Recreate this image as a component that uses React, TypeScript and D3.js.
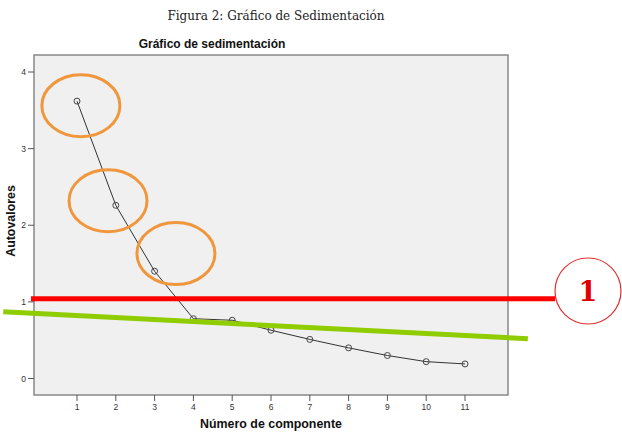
import React from 'react';
import * as d3 from 'd3';

const components = [1, 2, 3, 4, 5, 6, 7, 8, 9, 10, 11];
const eigenvalues = [3.62, 2.26, 1.4, 0.78, 0.76, 0.63, 0.51, 0.4, 0.3, 0.22, 0.19];
const yTicks = [0, 1, 2, 3, 4];
// hand-drawn annotations, in data units
const highlighted = [
  { x: 1.1, y: 3.56 },
  { x: 1.8, y: 2.32 },
  { x: 3.55, y: 1.63 },
];
const kaiserLine = 1.04;
const elbowLine = [
  { x: -0.9, y: 0.87 },
  { x: 12.62, y: 0.52 },
];

export default function App() {
  const width = 622;
  const height = 432;
  const frame = { left: 34, top: 55, right: 508, bottom: 395 };

  const x = d3.scaleLinear().domain([1, 11]).range([77, 465]);
  const y = d3.scaleLinear().domain([0, 4]).range([378.5, 72]);

  const line = d3
    .line<number>()
    .x((_, i) => x(components[i]))
    .y((d) => y(d));

  const green = d3
    .line<{ x: number; y: number }>()
    .x((d) => x(d.x))
    .y((d) => y(d.y));

  return (
    <svg
      width={width}
      height={height}
      style={{ position: 'absolute', left: 0, top: 0, background: '#fff' }}
    >
      <text
        x={276}
        y={20}
        textAnchor="middle"
        fontFamily="DejaVu Serif, serif"
        fontSize={12}
        fill="#222"
      >
        Figura 2: Gráfico de Sedimentación
      </text>
      <text
        x={212}
        y={48}
        textAnchor="middle"
        fontFamily="Liberation Sans, Arial, sans-serif"
        fontWeight="bold"
        fontSize={12}
        fill="#111"
      >
        Gráfico de sedimentación
      </text>

      <rect
        x={frame.left}
        y={frame.top}
        width={frame.right - frame.left}
        height={frame.bottom - frame.top}
        fill="#f0f0f0"
        stroke="#888"
        strokeWidth={1.5}
      />

      {yTicks.map((t) => (
        <g key={'y' + t}>
          <line x1={frame.left - 6} x2={frame.left} y1={y(t)} y2={y(t)} stroke="#555" />
          <text
            x={frame.left - 8}
            y={y(t) + 3}
            textAnchor="end"
            fontFamily="Liberation Sans, Arial, sans-serif"
            fontSize={8.5}
            fill="#333"
          >
            {t}
          </text>
        </g>
      ))}

      {components.map((c) => (
        <g key={'x' + c}>
          <line x1={x(c)} x2={x(c)} y1={frame.bottom} y2={frame.bottom + 6} stroke="#555" />
          <text
            x={x(c)}
            y={frame.bottom + 15}
            textAnchor="middle"
            fontFamily="Liberation Sans, Arial, sans-serif"
            fontSize={8.5}
            fill="#333"
          >
            {c}
          </text>
        </g>
      ))}

      <text
        x={271}
        y={428}
        textAnchor="middle"
        fontFamily="Liberation Sans, Arial, sans-serif"
        fontWeight="bold"
        fontSize={12.4}
        fill="#111"
      >
        Número de componente
      </text>
      <text
        transform={`translate(15,${221}) rotate(-90)`}
        textAnchor="middle"
        fontFamily="Liberation Sans, Arial, sans-serif"
        fontWeight="bold"
        fontSize={12.4}
        fill="#111"
      >
        Autovalores
      </text>

      <path d={line(eigenvalues) ?? ''} fill="none" stroke="#333" strokeWidth={1} />
      {eigenvalues.map((v, i) => (
        <circle
          key={'p' + i}
          cx={x(components[i])}
          cy={y(v)}
          r={3}
          fill="none"
          stroke="#444"
          strokeWidth={1}
        />
      ))}

      {highlighted.map((h, i) => (
        <ellipse
          key={'e' + i}
          cx={x(h.x)}
          cy={y(h.y)}
          rx={39}
          ry={31}
          fill="none"
          stroke="#f0963c"
          strokeWidth={3}
        />
      ))}

      <line
        x1={31}
        x2={555}
        y1={y(kaiserLine)}
        y2={y(kaiserLine)}
        stroke="#ff0000"
        strokeWidth={5}
      />
      <circle cx={588} cy={291} r={33} fill="#fff" stroke="#e03030" strokeWidth={1.2} />
      <text
        x={588}
        y={301}
        textAnchor="middle"
        fontFamily="DejaVu Serif, serif"
        fontWeight="bold"
        fontSize={27}
        fill="#e00000"
      >
        1
      </text>

      <path d={green(elbowLine) ?? ''} fill="none" stroke="#8fcc00" strokeWidth={5} />
    </svg>
  );
}
